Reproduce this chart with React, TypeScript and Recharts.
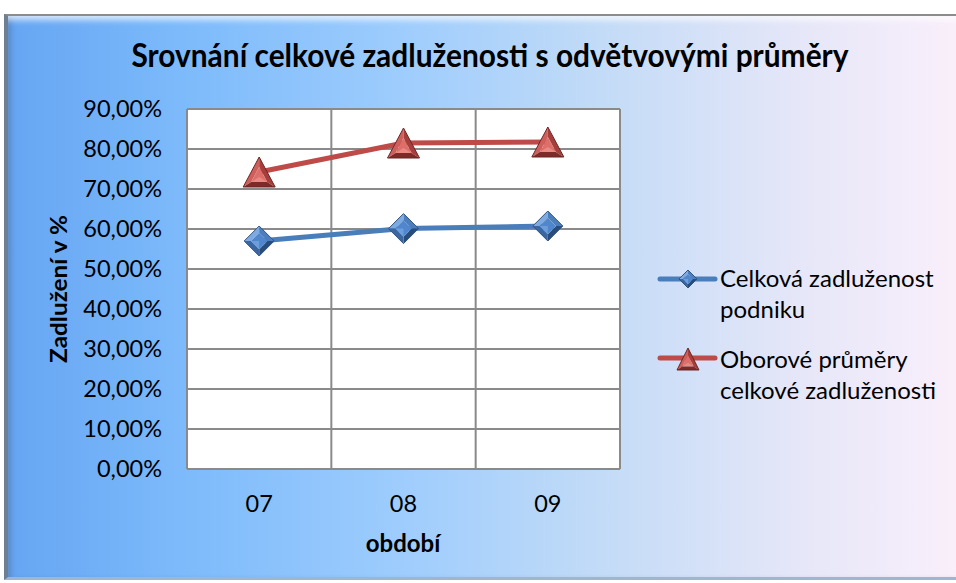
import React from 'react';
import { LineChart, Line, XAxis, YAxis, CartesianGrid } from 'recharts';

const categories = ['07', '08', '09'];
const companyDebt = [57.0, 60.1, 60.75];
const industryAvg = [74.25, 81.5, 81.75];
const yTicks = [0, 10, 20, 30, 40, 50, 60, 70, 80, 90];
const seriesNames = ['Celková zadluženost podniku', 'Oborové průměry celkové zadluženosti'];
const legendLines = [
  ['Celková zadluženost', 'podniku'],
  ['Oborové průměry', 'celkové zadluženosti'],
];
const titleText = 'Srovnání celkové zadluženosti s odvětvovými průměry';
const xTitle = 'období';
const yTitle = 'Zadlužení v %';

const data = categories.map((c, i) => ({ cat: c, company: companyDebt[i], industry: industryAvg[i] }));

const FONT = 'Lato, "Open Sans", sans-serif';
const BLUE = '#4a7ebb';
const RED = '#be4b48';

function diamondPts(cx: number, cy: number, h: number) {
  return { T: [cx, cy - h], R: [cx + h, cy], B: [cx, cy + h], L: [cx - h, cy] };
}
const p = (a: number[]) => `${a[0]},${a[1]}`;

function Diamond({ cx, cy, h }: { cx: number; cy: number; h: number }) {
  const o = diamondPts(cx, cy, h);
  const i = diamondPts(cx, cy, h * 0.55);
  return (
    <g>
      <polygon points={`${p(o.L)} ${p(o.T)} ${p(i.T)} ${p(i.L)}`} fill="#7eaae2" />
      <polygon points={`${p(o.T)} ${p(o.R)} ${p(i.R)} ${p(i.T)}`} fill="#4c7dbc" />
      <polygon points={`${p(o.R)} ${p(o.B)} ${p(i.B)} ${p(i.R)}`} fill="#284c7b" />
      <polygon points={`${p(o.B)} ${p(o.L)} ${p(i.L)} ${p(i.B)}`} fill="#3b66a0" />
      <polygon points={`${p(i.T)} ${p(i.R)} ${p(i.B)} ${p(i.L)}`} fill="#4f86cc" />
      <polygon points={`${p(i.L)} ${p([cx, cy])} ${p(i.B)}`} fill="#6c9edc" />
      <polygon points={`${p(o.T)} ${p(o.R)} ${p(o.B)} ${p(o.L)}`} fill="none" stroke="#2f5584" strokeWidth={1} />
    </g>
  );
}

function Triangle({ cx, cy, h, w }: { cx: number; cy: number; h: number; w: number }) {
  const A = [cx, cy - h];
  const BL = [cx - w, cy + h];
  const BR = [cx + w, cy + h];
  const gy = cy + h / 3;
  const s = 0.5;
  const sc = (pt: number[]) => [cx + (pt[0] - cx) * s, gy + (pt[1] - gy) * s];
  const a = sc(A), bl = sc(BL), br = sc(BR);
  return (
    <g>
      <polygon points={`${p(A)} ${p(BL)} ${p(bl)} ${p(a)}`} fill="#cf5f5b" />
      <polygon points={`${p(A)} ${p(BR)} ${p(br)} ${p(a)}`} fill="#a63f3c" />
      <polygon points={`${p(BL)} ${p(BR)} ${p(br)} ${p(bl)}`} fill="#7c2b29" />
      <polygon points={`${p(a)} ${p(bl)} ${p(br)}`} fill="#de6e69" />
      <polygon points={`${p([cx, gy])} ${p(bl)} ${p(br)}`} fill="#e98a85" />
      <polygon points={`${p(A)} ${p(BL)} ${p(BR)}`} fill="none" stroke="#6e2523" strokeWidth={1} />
    </g>
  );
}

const DiamondDot = (props: any) => {
  const { cx, cy, index } = props;
  if (cx == null || cy == null) return <g key={index} />;
  return <Diamond key={index} cx={cx} cy={cy} h={15} />;
};
const TriangleDot = (props: any) => {
  const { cx, cy, index } = props;
  if (cx == null || cy == null) return <g key={index} />;
  return <Triangle key={index} cx={cx} cy={cy} h={15} w={16} />;
};

const fmt = (v: number) => v.toFixed(2).replace('.', ',') + '%';

export default function App() {
  return (
    <div style={{ position: 'absolute', left: 0, top: 0, width: 956, height: 583, background: '#fff', overflow: 'hidden' }}>
      <div
        style={{
          position: 'absolute',
          left: 4,
          top: 14,
          width: 956,
          height: 566,
          boxSizing: 'border-box',
          borderTop: '2px solid #8c8c8c',
          borderLeft: '4px solid #6f7f92',
          borderBottom: '3px solid #9fb6cf',
          background:
            'linear-gradient(to right, #66a5f2 0%, #7cbafb 18%, #9fcdfd 42%, #c2dbf7 62%, #e4e6f8 82%, #faeffb 100%)',
          boxShadow: 'inset 0 8px 6px -4px rgba(255,255,255,0.75), inset 6px 0 6px -4px rgba(40,60,90,0.35)',
        }}
      />
      <div style={{ position: 'absolute', left: 0, top: 0 }}>
        <LineChart width={956} height={583} data={data} margin={{ top: 109, right: 336, bottom: 0, left: 0 }}>
          <CartesianGrid
            fill="#ffffff"
            stroke="#8a8a8a"
            strokeWidth={2}
            verticalCoordinatesGenerator={({ offset }: any) =>
              [0, 1, 2, 3].map((i) => offset.left + (i * offset.width) / categories.length)
            }
          />
          <XAxis
            dataKey="cat"
            scale="band"
            height={114}
            axisLine={{ stroke: '#8a8a8a', strokeWidth: 2 }}
            tickLine={false}
            tickSize={0}
            tickMargin={26}
            tick={{ fill: '#000', fontSize: 23.5, fontFamily: FONT }}
          />
          <YAxis
            width={187}
            domain={[0, 90]}
            ticks={yTicks}
            interval={0}
            tickFormatter={fmt}
            axisLine={{ stroke: '#8a8a8a', strokeWidth: 2 }}
            tickLine={false}
            tickSize={0}
            tickMargin={25}
            tick={{ fill: '#000', fontSize: 23.5, fontFamily: FONT }}
          />
          <Line
            name={seriesNames[0]}
            dataKey="company"
            stroke={BLUE}
            strokeWidth={5}
            dot={<DiamondDot />}
            activeDot={false}
            isAnimationActive={false}
          />
          <Line
            name={seriesNames[1]}
            dataKey="industry"
            stroke={RED}
            strokeWidth={5}
            dot={<TriangleDot />}
            activeDot={false}
            isAnimationActive={false}
          />
        </LineChart>
      </div>
      <svg width={956} height={583} style={{ position: 'absolute', left: 0, top: 0, pointerEvents: 'none' }}>
        <text
          x={490}
          y={67}
          textAnchor="middle"
          fontFamily={FONT}
          fontWeight="bold"
          fontSize={32}
          textLength={717}
          lengthAdjust="spacingAndGlyphs"
          fill="#000"
        >
          {titleText}
        </text>
        <text
          transform="translate(67,289) rotate(-90)"
          textAnchor="middle"
          fontFamily={FONT}
          fontWeight="bold"
          fontSize={23}
          textLength={148}
          lengthAdjust="spacingAndGlyphs"
          fill="#000"
        >
          {yTitle}
        </text>
        <text x={403} y={552} textAnchor="middle" fontFamily={FONT} fontWeight="bold" fontSize={24} fill="#000">
          {xTitle}
        </text>
        <g transform="translate(650,250)">
          <line x1={10} y1={29} x2={65} y2={29} stroke={BLUE} strokeWidth={5} strokeLinecap="round" />
          <Diamond cx={38} cy={29} h={9} />
          <text x={70} y={37} fontFamily={FONT} fontSize={24} fill="#000">{legendLines[0][0]}</text>
          <text x={70} y={68} fontFamily={FONT} fontSize={24} fill="#000">{legendLines[0][1]}</text>
          <line x1={10} y1={108} x2={65} y2={108} stroke={RED} strokeWidth={5} strokeLinecap="round" />
          <Triangle cx={38} cy={109} h={11} w={11} />
          <text x={70} y={118} fontFamily={FONT} fontSize={24} fill="#000">{legendLines[1][0]}</text>
          <text x={70} y={149} fontFamily={FONT} fontSize={24} fill="#000">{legendLines[1][1]}</text>
        </g>
      </svg>
    </div>
  );
}
